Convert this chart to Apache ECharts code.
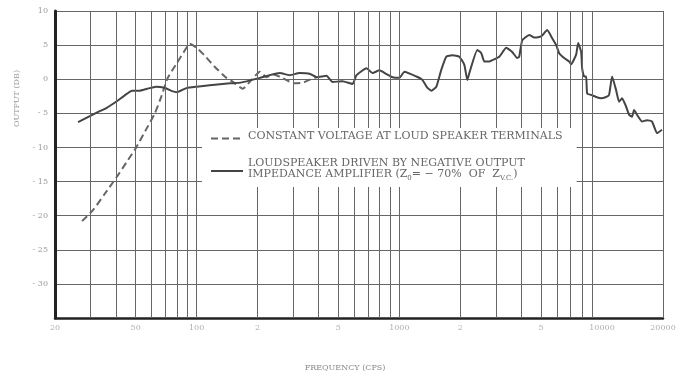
<!DOCTYPE html>
<html>
<head>
<meta charset="utf-8">
<script src="https://cdn.jsdelivr.net/npm/echarts@6/dist/echarts.min.js"></script>
<style>
  html, body { margin: 0; padding: 0; background: #fff; }
  #chart { width: 690px; height: 379px; }
</style>
</head>
<body>
<div id="chart"></div>
<script>
// constant voltage at loud speaker terminals (dashed)
const constFreq = [27.2, 30.8, 35, 40.4, 45, 50.1, 56, 62.2, 67, 72, 80, 86, 92.5, 100, 110, 122, 139, 151, 169, 185, 205, 221, 240, 260, 285, 304, 335, 360, 391]
const constDb = [-20.8, -19.2, -16.9, -14.3, -12.2, -10.1, -7.5, -5.0, -2.5, 0.2, 2.4, 3.9, 5.2, 4.6, 3.4, 1.9, 0.3, -0.4, -1.4, -0.2, 1.1, 0.3, 0.7, 0.3, -0.3, -0.6, -0.5, -0.1, 0.3]

// negative output impedance amplifier (solid)
const negFreq = [26, 31.6, 36, 40.5, 44, 48, 52, 57, 63, 70, 75, 80, 89, 100, 116, 146, 165, 205, 229, 257, 288, 322, 361, 391, 437, 468, 524, 588, 615, 689, 737, 798, 860, 925, 1001, 1060, 1214, 1300, 1370, 1439, 1523, 1612, 1706, 1827, 1978, 2093, 2165, 2215, 2426, 2538, 2627, 2780, 2876, 3113, 3370, 3607, 3817, 3904, 4040, 4376, 4630, 4898, 5070, 5366, 5679, 5945, 6149, 6506, 6886, 7045, 7454, 7627, 7891, 7982, 8165, 8353, 8448, 8840, 9354, 9900, 10478, 10840, 11218, 11738, 12144, 12562, 13144, 13600, 14072, 14394, 14894, 15768, 16688, 17658, 18684, 19770]
const negDb = [-6.3, -5.0, -4.2, -3.2, -2.4, -1.7, -1.7, -1.4, -1.1, -1.3, -1.7, -1.9, -1.3, -1.1, -0.9, -0.6, -0.5, 0.2, 0.6, 0.9, 0.6, 0.9, 0.8, 0.3, 0.5, -0.4, -0.3, -0.7, 0.6, 1.6, 0.9, 1.3, 0.8, 0.3, 0.2, 1.1, 0.4, -0.1, -1.2, -1.7, -1.1, 1.4, 3.3, 3.5, 3.3, 2.1, -0.1, 0.9, 4.3, 3.8, 2.6, 2.6, 2.8, 3.3, 4.6, 4.0, 3.1, 3.3, 5.7, 6.5, 6.1, 6.2, 6.4, 7.2, 6.0, 5.0, 3.8, 3.1, 2.6, 2.2, 3.6, 5.3, 4.0, 1.6, 0.4, 0.4, -2.1, -2.3, -2.6, -2.8, -2.6, -2.3, 0.4, -1.6, -3.3, -2.8, -4.0, -5.2, -5.5, -4.5, -5.2, -6.2, -6.0, -6.2, -7.9, -7.4]

const xTickValues = [20, 50, 100, 200, 500, 1000, 2000, 5000, 10000, 20000]
const xTickLabels = ['20', '50', '100', '2', '5', '1000', '2', '5', '10000', '20000']
// vertical lines of the graph paper
const gridFreqs = [30, 40, 50, 60, 70, 80, 90, 100, 200, 300, 400, 500, 600, 700, 800, 900, 1000, 2000, 3000, 4000, 5000, 6000, 7000, 8000, 9000, 20000]

const nameConst = 'CONSTANT VOLTAGE AT LOUD SPEAKER TERMINALS'
const nameNeg = 'LOUDSPEAKER DRIVEN BY NEGATIVE OUTPUT'

const serif = 'DejaVu Serif'

const zip = (xs, ys) => xs.map((x, i) => [x, ys[i]])

const chart = echarts.init(document.getElementById('chart'))
chart.setOption({
  animation: false,
  grid: { left: 55, right: 27, top: 11, bottom: 61 },
  xAxis: {
    type: 'log',
    min: 20,
    max: 20000,
    name: 'FREQUENCY (CPS)',
    nameLocation: 'middle',
    nameGap: 46,
    nameTextStyle: { color: '#888', fontSize: 8, fontFamily: serif, padding: [0, 28, 0, 0] },
    axisLine: { onZero: false, lineStyle: { color: '#222', width: 2.5 } },
    axisTick: { show: false },
    axisLabel: { show: false },
    splitLine: { show: false },
  },
  yAxis: {
    type: 'value',
    min: -35,
    max: 10,
    interval: 5,
    name: 'OUTPUT (DB)',
    nameLocation: 'middle',
    nameGap: 34,
    nameRotate: 90,
    nameTextStyle: { color: '#999', fontSize: 8, fontFamily: serif, padding: [0, 0, 0, 132] },
    axisLine: { show: true, lineStyle: { color: '#222', width: 3 } },
    axisTick: { show: false },
    axisLabel: {
      color: '#999',
      fontSize: 8,
      fontFamily: serif,
      margin: 7,
      formatter: (v) => (v === -35 ? '' : v < 0 ? '- ' + Math.abs(v) : String(v)),
    },
    splitLine: { lineStyle: { color: '#666', width: 1 } },
  },
  legend: {
    data: [nameConst, nameNeg],
    orient: 'vertical',
    left: 202,
    top: 128,
    z: 10,
    backgroundColor: '#fff',
    padding: [3, 14, 5, 8],
    itemGap: 14,
    itemWidth: 32,
    itemHeight: 10,
    itemStyle: { opacity: 0 },
    formatter: (name) => {
      if (name === nameNeg) {
        return '{t|' + name + '}\n{t|IMPEDANCE AMPLIFIER (Z}{s|0}{t|= − 70%  OF  Z}{s|V.C.}{t|)}'
      }
      return '{t|' + name + '}'
    },
    textStyle: {
      rich: {
        t: { color: '#666', fontSize: 11, fontFamily: serif, lineHeight: 11, verticalAlign: 'bottom', padding: [0, 0, 2, 0] },
        s: { color: '#666', fontSize: 7, fontFamily: serif, lineHeight: 11, verticalAlign: 'bottom' },
      },
    },
  },
  series: [
    {
      name: nameConst,
      type: 'line',
      data: zip(constFreq, constDb),
      symbol: 'none',
      smooth: 0.15,
      lineStyle: { color: '#666', width: 2, type: [7, 4] },
      itemStyle: { color: '#666' },
      z: 3,
    },
    {
      name: nameNeg,
      type: 'line',
      data: zip(negFreq, negDb),
      symbol: 'none',
      smooth: 0.15,
      lineStyle: { color: '#444', width: 2 },
      itemStyle: { color: '#444' },
      z: 3,
    },
    {
      // tick labels of the frequency axis and the paper's vertical lines
      name: 'ticks',
      type: 'scatter',
      silent: true,
      data: xTickValues.map((v) => [v, -35]),
      symbolSize: 0,
      label: {
        show: true,
        position: 'bottom',
        distance: 6,
        color: '#999',
        fontSize: 8,
        fontFamily: serif,
        formatter: (p) => xTickLabels[p.dataIndex],
      },
      markLine: {
        silent: true,
        symbol: 'none',
        animation: false,
        label: { show: false },
        lineStyle: { color: '#666', width: 1, type: 'solid' },
        data: gridFreqs.map((f) => ({ xAxis: f })),
      },
      z: 1,
    },
  ],
})
</script>
</body>
</html>
